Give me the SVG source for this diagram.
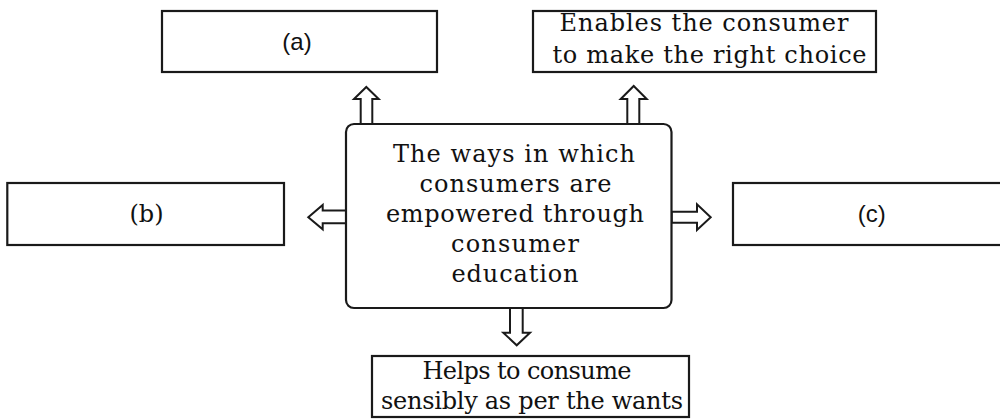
<svg xmlns="http://www.w3.org/2000/svg" width="1000" height="419" viewBox="0 0 1000 419">
  <style>
    .box { fill: #ffffff; stroke: #1a1a1a; stroke-width: 2.2; }
    .arrow { fill: #ffffff; stroke: #1a1a1a; stroke-width: 2; stroke-linejoin: miter; }
    .serif { font-family: "DejaVu Serif", "Liberation Serif", serif; font-size: 24px; fill: #111111; text-anchor: middle; }
    .sans { font-family: "Liberation Sans", Arial, sans-serif; font-size: 24px; fill: #111111; text-anchor: middle; }
  </style>
  <rect width="1000" height="419" fill="#ffffff"/>

  <g id="connectors">
    <polygon class="arrow" points="360.7,124 360.7,99 354,99 366.3,87 378.7,99 372.3,99 372.3,124"/>
    <polygon class="arrow" points="627.3,124 627.3,99 620.7,99 633.7,86 646.7,99 639.3,99 639.3,124"/>
    <polygon class="arrow" points="510,308 510,332.7 503.3,332.7 516.7,345.3 530,332.7 522.7,332.7 522.7,308"/>
    <polygon class="arrow" points="346,210.5 322.7,210.5 322.7,205 308.3,217.3 322.7,229.3 322.7,223.3 346,223.3"/>
    <polygon class="arrow" points="671.7,211.7 697,211.7 697,204.3 710.7,217.3 697,230 697,222.7 671.7,222.7"/>
  </g>

  <g id="node-center">
    <rect class="box" x="346" y="124" width="325.5" height="184" rx="8" ry="8"/>
    <text class="serif" x="514" y="162" textLength="242" lengthAdjust="spacing">The ways in which</text>
    <text class="serif" x="515.5" y="192" textLength="192" lengthAdjust="spacing">consumers are</text>
    <text class="serif" x="515" y="222" textLength="258" lengthAdjust="spacing">empowered through</text>
    <text class="serif" x="515" y="252" textLength="128" lengthAdjust="spacing">consumer</text>
    <text class="serif" x="515" y="282" textLength="127" lengthAdjust="spacing">education</text>
  </g>

  <g id="node-a">
    <rect class="box" x="162" y="11" width="275" height="61"/>
    <text class="sans" x="297" y="50">(a)</text>
  </g>

  <g id="node-enables">
    <rect class="box" x="533" y="11" width="343" height="61"/>
    <text class="serif" x="704" y="31" textLength="289" lengthAdjust="spacing">Enables the consumer</text>
    <text class="serif" x="709.5" y="63" textLength="314" lengthAdjust="spacing">to make the right choice</text>
  </g>

  <g id="node-b">
    <rect class="box" x="7.3" y="183" width="276.7" height="62"/>
    <text class="serif" x="146.5" y="222">(b)</text>
  </g>

  <g id="node-c">
    <rect class="box" x="733" y="183" width="280" height="62"/>
    <text class="sans" x="871.7" y="222">(c)</text>
  </g>

  <g id="node-helps">
    <rect class="box" x="372" y="356" width="317" height="61"/>
    <text class="serif" x="527" y="379" textLength="209" lengthAdjust="spacing">Helps to consume</text>
    <text class="serif" x="532" y="409" textLength="302" lengthAdjust="spacing">sensibly as per the wants</text>
  </g>
</svg>
